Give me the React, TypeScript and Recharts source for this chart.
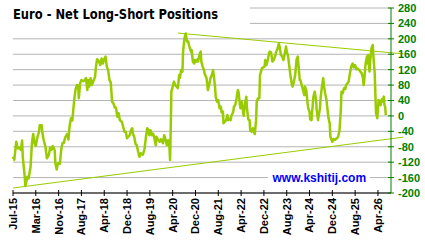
import React from 'react';
import { LineChart, Line, XAxis, YAxis, CartesianGrid, ReferenceLine } from 'recharts';

// Weekly net long-short positions (week index since Jul-15, value)
const netPositions: [number, number][] = [
  [0, -106], [2, -114], [5, -67], [7, -84], [10, -83], [12, -88], [14, -64], [15, -106], [18, -158], [19, -182],
  [22, -158], [24, -162], [27, -132], [29, -71], [31, -47], [33, -71], [35, -78], [37, -58], [40, -41], [41, -24],
  [44, -24], [45, -43], [47, -62], [50, -82], [52, -110], [55, -101], [57, -82], [59, -88], [61, -78], [64, -89],
  [65, -123], [67, -139], [69, -123], [72, -124], [74, -87], [76, -70], [78, -70], [80, -56], [83, -47], [85, -61],
  [87, -24], [89, -6], [91, -12], [94, 43], [96, 69], [98, 80], [100, 79], [101, 46], [103, 85], [105, 93],
  [108, 90], [110, 93], [112, 98], [114, 67], [115, 93], [117, 76], [119, 98], [121, 80], [124, 93], [126, 102],
  [127, 124], [129, 147], [132, 141], [134, 132], [136, 149], [138, 136], [140, 147], [142, 154], [144, 128], [146, 119],
  [148, 93], [150, 87], [152, 37], [154, 33], [156, 22], [158, 22], [160, -2], [162, 7], [164, -11], [167, -15],
  [169, -28], [171, -41], [173, -41], [175, -58], [177, -54], [179, -50], [181, -37], [183, -32], [184, -46], [186, -54],
  [188, -73], [190, -76], [192, -93], [194, -106], [196, -97], [199, -101], [200, -97], [202, -84], [204, -54], [206, -32],
  [208, -37], [209, -50], [211, -37], [213, -50], [215, -46], [217, -58], [219, -76], [220, -54], [223, -63], [225, -67],
  [227, -61], [230, -71], [232, -50], [234, -61], [236, -76], [238, -63], [240, -80], [241, -114], [242, -37], [243, 63],
  [245, 76], [247, 89], [249, 80], [251, 76], [253, 72], [255, 106], [256, 98], [258, 119], [260, 115], [261, 167],
  [263, 201], [265, 214], [267, 193], [269, 193], [270, 184], [273, 167], [274, 171], [276, 141], [278, 136], [279, 145],
  [281, 141], [283, 147], [284, 141], [286, 158], [288, 167], [289, 141], [291, 128], [293, 119], [294, 110], [297, 98],
  [299, 67], [301, 80], [303, 98], [305, 106], [307, 119], [308, 106], [310, 76], [311, 50], [313, 37], [315, 41],
  [317, 20], [319, 24], [320, 9], [322, 11], [323, -19], [325, -15], [327, -11], [329, 2], [330, -11], [332, -7],
  [334, -11], [335, 0], [338, 11], [339, 24], [341, 28], [343, 46], [345, 67], [346, 63], [348, 32], [349, 20],
  [351, 37], [353, 11], [354, 0], [356, 32], [358, 50], [359, 20], [361, -9], [363, -11], [364, -37], [366, -41],
  [368, -32], [369, -37], [371, -47], [373, -11], [374, 37], [376, 46], [378, 46], [379, 106], [382, 124], [384, 126],
  [386, 128], [387, 145], [389, 132], [391, 145], [393, 164], [394, 167], [396, 165], [398, 141], [400, 145], [402, 154],
  [404, 167], [406, 175], [408, 188], [410, 171], [411, 158], [413, 154], [415, 145], [417, 162], [419, 180], [420, 167],
  [422, 156], [424, 128], [426, 102], [428, 80], [429, 76], [431, 89], [433, 106], [435, 145], [437, 154], [438, 132],
  [440, 93], [441, 93], [443, 80], [445, 67], [447, 54], [448, 76], [450, 67], [452, 33], [453, 20], [455, 11],
  [456, -9], [458, -11], [459, 11], [461, 50], [463, 63], [465, 41], [466, 15], [468, -11], [469, 0], [471, 20],
  [472, 46], [474, 76], [476, 98], [477, 80], [479, 58], [481, 41], [484, -5], [486, -20], [487, -54], [490, -67],
  [492, -60], [494, -62], [497, -58], [499, -54], [501, -37], [503, 15], [504, 63], [506, 59], [508, 72], [510, 70],
  [511, 80], [513, 84], [515, 89], [517, 111], [519, 128], [521, 136], [523, 126], [525, 132], [527, 121], [529, 123],
  [531, 119], [533, 115], [535, 111], [537, 98], [538, 80], [539, 93], [541, 136], [543, 154], [544, 136], [545, 158],
  [547, 115], [548, 141], [550, 175], [552, 184], [553, 154], [555, 111], [556, 58], [557, 7], [559, -6], [561, 41],
  [563, 37], [564, 28], [566, 43], [567, 37], [569, 50], [570, 28], [571, 24], [572, 2],
];

const tickLabels = [
  'Jul-15', 'Mar-16', 'Nov-16', 'Aug-17', 'Apr-18', 'Dec-18', 'Aug-19', 'Apr-20', 'Dec-20',
  'Aug-21', 'Apr-22', 'Dec-22', 'Aug-23', 'Apr-24', 'Dec-24', 'Aug-25', 'Apr-26',
];
const tickWeeks = [0, 35, 70, 105, 140, 175, 210, 245, 280, 315, 350, 385, 420, 455, 490, 525, 560];
const yTicks = [-200, -160, -120, -80, -40, 0, 40, 80, 120, 160, 200, 240, 280];

const upperTrend = [
  { week: 253, value: 215 },
  { week: 599, value: 161 },
];
const lowerTrend = [
  { week: 0, value: -187 },
  { week: 599, value: -55 },
];

const data = netPositions.map(([week, value]) => ({ week, value }));

const GREEN = '#99CC00';
const AXIS_GREEN = '#008000';

const XTick = (props: any) => {
  const { x, y, payload } = props;
  const idx = tickWeeks.indexOf(payload.value);
  const label = idx >= 0 ? tickLabels[idx] : '';
  return (
    <g>
      <line x1={x} x2={x} y1={y - 8} y2={y - 2} stroke="#000" strokeWidth={1} />
      <text
        x={x}
        y={y}
        dy="0.36em"
        transform={`rotate(-90, ${x}, ${y})`}
        textAnchor="end"
        fontFamily="'Liberation Sans', Arial, sans-serif"
        fontWeight="bold"
        fontSize={11}
        fill="#000"
      >
        {label}
      </text>
    </g>
  );
};

const YTick = (props: any) => {
  const { x, y, payload } = props;
  return (
    <g>
      <line x1={x - 9} x2={x - 3} y1={y} y2={y} stroke={AXIS_GREEN} strokeWidth={1} />
      <text
        x={x + 1}
        y={y}
        dy="0.36em"
        textAnchor="start"
        fontFamily="'Liberation Sans', Arial, sans-serif"
        fontWeight="bold"
        fontSize={11}
        fill={AXIS_GREEN}
      >
        {payload.value}
      </text>
    </g>
  );
};

export default function App() {
  return (
    <div style={{ position: 'fixed', left: 0, top: 0, width: 425, height: 241, background: '#fff' }}>
      <LineChart
        width={425}
        height={241}
        data={data}
        margin={{ top: 8, right: 0, bottom: 0, left: 13 }}
      >
        <CartesianGrid horizontal vertical={false} stroke="#B4B4B4" strokeWidth={1} />
        <XAxis
          dataKey="week"
          type="number"
          domain={[0, 580]}
          ticks={tickWeeks}
          interval={0}
          height={48}
          tickSize={3}
          tickMargin={2}
          tickLine={false}
          axisLine={{ stroke: '#000', strokeWidth: 1 }}
          tick={<XTick />}
        />
        <YAxis
          orientation="right"
          type="number"
          domain={[-200, 280]}
          ticks={yTicks}
          interval={0}
          width={34}
          tickSize={3}
          tickMargin={3}
          tickLine={false}
          axisLine={{ stroke: AXIS_GREEN, strokeWidth: 1 }}
          tick={<YTick />}
        />
        <ReferenceLine
          segment={[
            { x: upperTrend[0].week, y: upperTrend[0].value },
            { x: upperTrend[1].week, y: upperTrend[1].value },
          ]}
          stroke={GREEN}
          strokeWidth={1}
          ifOverflow="visible"
        />
        <ReferenceLine
          segment={[
            { x: lowerTrend[0].week, y: lowerTrend[0].value },
            { x: lowerTrend[1].week, y: lowerTrend[1].value },
          ]}
          stroke={GREEN}
          strokeWidth={1}
          ifOverflow="visible"
        />
        <Line
          type="linear"
          dataKey="value"
          stroke={GREEN}
          strokeWidth={2.5}
          strokeLinejoin="round"
          dot={false}
          activeDot={false}
          isAnimationActive={false}
        />
      </LineChart>
      <svg style={{ position: 'absolute', left: 0, top: 0 }} width={300} height={30}>
        <rect x={0} y={0} width={250} height={30} fill="#fff" />
        <text
          x={13}
          y={18.5}
          fontFamily="'DejaVu Sans Condensed', 'DejaVu Sans', Verdana, sans-serif"
          fontWeight="bold"
          fontSize={14}
          textLength={205}
          lengthAdjust="spacingAndGlyphs"
          fill="#000"
        >
          Euro - Net Long-Short Positions
        </text>
      </svg>
      <svg style={{ position: 'absolute', left: 268, top: 170 }} width={102} height={16}>
        <rect x={0} y={0} width={102} height={16} fill="#fff" />
        <text
          x={4.5}
          y={11.5}
          fontFamily="'Liberation Sans', Arial, sans-serif"
          fontWeight="bold"
          fontSize={12}
          fill="#0000FF"
        >
          www.kshitij.com
        </text>
      </svg>
    </div>
  );
}
